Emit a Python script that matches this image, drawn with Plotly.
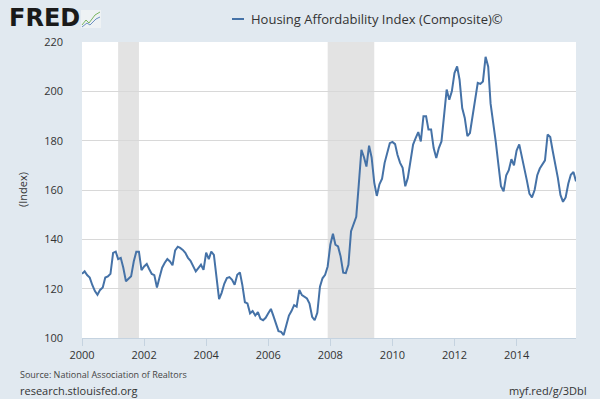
import pandas as pd
import plotly.graph_objects as go

# Monthly Housing Affordability Index (Composite), Jan 2000 - Dec 2015
start_month = "2000-01-01"
hai_values = [
    # 2000
    126, 127, 125.5, 124.5, 121.5, 119, 117.5, 119.5, 120.5, 124.5, 125, 126,
    # 2001
    134.5, 135, 132, 132.5, 128.5, 123, 124, 125, 131, 135, 135, 127.5,
    # 2002
    129, 130, 128, 126, 125.5, 120.5, 124.5, 128.5, 130.5, 132, 131, 129.5,
    # 2003
    135.5, 137, 136.5, 135.7, 134.5, 132.5, 131.3, 129, 127, 128.3, 129.7, 127.6,
    # 2004
    134.6, 132, 135, 133.7, 125, 115.8, 118.3, 122, 124.3, 124.7, 123.6, 121.6,
    # 2005
    125.6, 126.6, 121.6, 114.5, 114, 110, 110.9, 109.1, 110.5, 107.8, 107.2, 108.2,
    # 2006
    110, 111.8, 109.1, 106.2, 102.8, 102.5, 101.2, 105.2, 109.1, 110.9, 113.3, 112.7,
    # 2007
    119.5, 117.4, 116.7, 116, 114, 108.6, 107.2, 110.2, 120.8, 124.2, 125.6, 129,
    # 2008
    137.8, 142.3, 137.8, 137.1, 133.1, 126.5, 126.3, 129.7, 143.3, 146, 149.1, 162.3,
    # 2009
    176.3, 173.2, 169.5, 178, 173.2, 163, 157.6, 162.3, 164.6, 171, 175, 179,
    # 2010
    179.5, 178.6, 174.3, 171, 169, 161.5, 164.9, 171.6, 178.4, 181, 183.5, 179.7,
    # 2011
    189.9, 189.9, 184.5, 184.5, 177, 173, 177, 179.7, 191.9, 200.7, 196.6, 200,
    # 2012
    207.4, 210.1, 204.7, 193.2, 189.2, 181.8, 183.1, 190, 197, 203.4, 203, 204,
    # 2013
    214, 210, 195, 187.5, 179.5, 170.3, 161.5, 159.5, 166, 168, 172.5, 170,
    # 2014
    176, 178.5, 174, 170, 164, 158.5, 157, 160, 166, 168.7, 170.5, 172,
    # 2015
    182.5, 181.5, 176, 170.5, 165, 158, 155.2, 157, 162.5, 166.2, 167.3, 163.5,
]
dates = pd.date_range(start_month, periods=len(hai_values), freq="MS")

recession_starts = ["2001-03-01", "2007-12-01"]
recession_ends = ["2001-11-01", "2009-06-01"]

x_tick_years = [2000, 2002, 2004, 2006, 2008, 2010, 2012, 2014]
y_tick_values = [100, 120, 140, 160, 180, 200, 220]

series_name = "Housing Affordability Index (Composite)©"
LINE_COLOR = "#4572a7"
BG = "#e1e9f0"
FONT = "Open Sans"

W, H = 600, 399
ML, MR, MT, MB = 82, 24, 42, 61
PW, PH = W - ML - MR, H - MT - MB


def px(xp):
    return (xp - ML) / PW


def py(yp):
    return (H - MB - yp) / PH


fig = go.Figure()
fig.add_trace(go.Scatter(x=dates, y=hai_values, mode="lines",
                         line=dict(color=LINE_COLOR, width=2),
                         name=series_name, showlegend=False))

shapes = []
for s, e in zip(recession_starts, recession_ends):
    shapes.append(dict(type="rect", xref="x", yref="paper", x0=s, x1=e, y0=0, y1=1,
                       fillcolor="#e3e3e3", line=dict(width=0), layer="below"))
# legend swatch
shapes.append(dict(type="line", xref="paper", yref="paper", x0=px(232), x1=px(244),
                   y0=py(19), y1=py(19), line=dict(color=LINE_COLOR, width=2)))
# small logo icon
shapes.append(dict(type="rect", xref="paper", yref="paper", x0=px(81), x1=px(101),
                   y0=py(28), y1=py(10), fillcolor="#eef2f4", line=dict(width=0)))
shapes.append(dict(type="path", xref="paper", yref="paper",
                   path="M %f,%f L %f,%f L %f,%f L %f,%f L %f,%f" % (
                       px(82), py(25), px(86), py(20), px(89), py(23), px(95), py(15), px(100), py(12)),
                   line=dict(color="#7bb661", width=1)))
shapes.append(dict(type="path", xref="paper", yref="paper",
                   path="M %f,%f L %f,%f L %f,%f L %f,%f L %f,%f" % (
                       px(82), py(27), px(87), py(23), px(90), py(25), px(96), py(19), px(100), py(17)),
                   line=dict(color="#6a8fc0", width=1)))

annotations = [
    dict(text=series_name, xref="paper", yref="paper", x=px(249), y=py(19),
         xanchor="left", yanchor="middle", showarrow=False,
         font=dict(family=FONT, size=13, color="#333333")),
    dict(text="<b>FRED</b>", xref="paper", yref="paper", x=px(7), y=py(18),
         xanchor="left", yanchor="middle", showarrow=False,
         font=dict(family="DejaVu Sans", size=24, color="#1a1a1a")),
    dict(text="(Index)", xref="paper", yref="paper", x=px(22), y=0.5,
         xanchor="center", yanchor="middle", textangle=-90, showarrow=False,
         font=dict(family=FONT, size=11, color="#333333")),
    dict(text="Source: National Association of Realtors", xref="paper", yref="paper",
         x=px(18), y=py(374), xanchor="left", yanchor="middle", showarrow=False,
         font=dict(family=FONT, size=9, color="#444444")),
    dict(text="research.stlouisfed.org", xref="paper", yref="paper",
         x=px(18), y=py(390), xanchor="left", yanchor="middle", showarrow=False,
         font=dict(family=FONT, size=11, color="#333333")),
    dict(text="myf.red/g/3DbI", xref="paper", yref="paper",
         x=px(589), y=py(390), xanchor="right", yanchor="middle", showarrow=False,
         font=dict(family=FONT, size=11, color="#333333")),
]

fig.update_layout(
    width=W, height=H,
    margin=dict(l=ML, r=MR, t=MT, b=MB, pad=0),
    paper_bgcolor=BG, plot_bgcolor="#ffffff",
    shapes=shapes, annotations=annotations,
    font=dict(family=FONT, size=11, color="#333333"),
    xaxis=dict(range=[dates[0], dates[-1]], type="date",
               tickvals=[pd.Timestamp(year=y, month=1, day=1) for y in x_tick_years],
               ticktext=[str(y) for y in x_tick_years],
               showgrid=False, zeroline=False,
               showline=True, linecolor="#c5d3e0", linewidth=1,
               ticks="outside", ticklen=7, tickcolor="#c5d3e0",
               tickfont=dict(family=FONT, size=11, color="#333333")),
    yaxis=dict(range=[100, 220], tickvals=y_tick_values,
               showgrid=True, gridcolor="#d8d8d8", gridwidth=1,
               zeroline=False, showline=False, ticks="",
               ticklabelstandoff=18,
               tickfont=dict(family=FONT, size=11, color="#333333")),
)

fig.write_html("out.html",
               config={"displayModeBar": False},
               post_script="document.body.style.margin='0';"
                           "document.body.style.background='%s';" % BG)
